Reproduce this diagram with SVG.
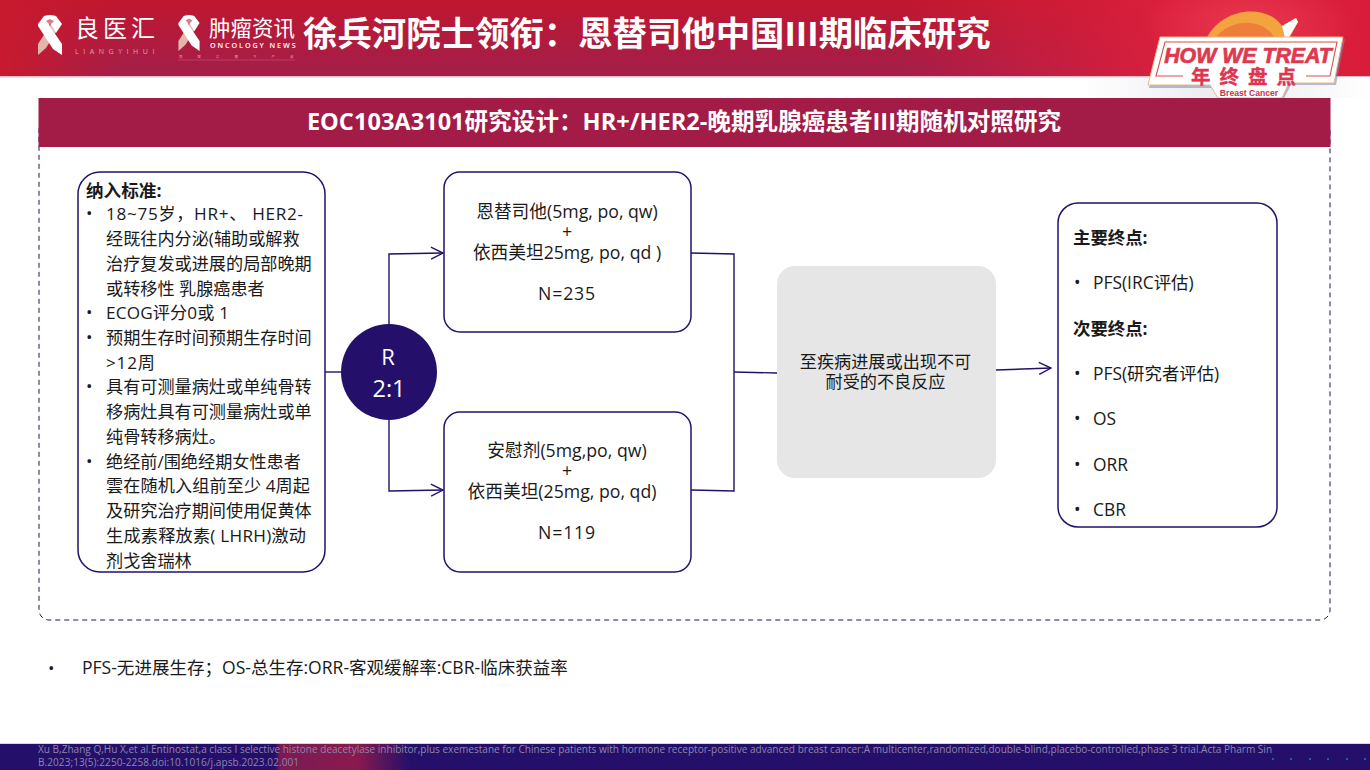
<svg xmlns="http://www.w3.org/2000/svg" width="1370" height="770" viewBox="0 0 1370 770">
<style>
text{font-family:"Open Sans","Noto Sans CJK SC",sans-serif;fill:#1a1a1a;font-size:17.15px}
.w{fill:#fff}
.c{text-anchor:middle}
.b{font-weight:700}
.box{fill:#fff;stroke:#24106a;stroke-width:1.5}
.ln{fill:none;stroke:#24106a;stroke-width:1.4}
.arm{font-size:17.7px}
.ep{font-size:17.4px}
.ref{font-size:10.05px;fill:#8d86ab;font-family:"Open Sans",sans-serif}
</style>
<defs>
<linearGradient id="hd" x1="0" y1="0" x2="0" y2="1"><stop offset="0" stop-color="#c0172f"/><stop offset="1" stop-color="#a31e4a"/></linearGradient>
<linearGradient id="hr" x1="0" y1="0" x2="1" y2="0"><stop offset="0" stop-color="#d81f3c" stop-opacity="0"/><stop offset="0.6" stop-color="#dc1f3c"/><stop offset="1" stop-color="#d81c3a"/></linearGradient>
<linearGradient id="hl" x1="0" y1="0" x2="1" y2="0"><stop offset="0" stop-color="#c81a2e"/><stop offset="1" stop-color="#c81a2e" stop-opacity="0"/></linearGradient>
<linearGradient id="fp" x1="0" y1="0" x2="1" y2="0"><stop offset="0" stop-color="#24106a"/><stop offset="0.04" stop-color="#7c1a55"/><stop offset="0.6" stop-color="#8a1a4e"/><stop offset="1" stop-color="#24106a"/></linearGradient>
<linearGradient id="haze" x1="0" y1="0" x2="1" y2="0"><stop offset="0" stop-color="#eeeef2" stop-opacity="0"/><stop offset="0.5" stop-color="#e9e9ef"/><stop offset="1" stop-color="#fff"/></linearGradient>
<radialGradient id="sun" cx=".5" cy=".5" r=".5"><stop offset="0" stop-color="#ee3f55" stop-opacity=".8"/><stop offset="1" stop-color="#ee3f55" stop-opacity="0"/></radialGradient>
<marker id="arr" viewBox="0 0 14 14" refX="13" refY="7" markerWidth="14" markerHeight="14" markerUnits="userSpaceOnUse" orient="auto"><path d="M1 1L13 7L1 13" fill="none" stroke="#24106a" stroke-width="1.4"/></marker>
<g id="rib">
<path d="M6 17L-4 33L-12 40V29L1 9H7Z" fill="#e3b5ad"/>
<path d="M-12 9L-6 1Q0-1 6 1L12 9L6 18L1 10Q0 7-1 10L12 29V40L3 34L-12 11Z" fill="#fff"/>
<path d="M-4 6L0 10L4 6L0 4Z" fill="#d8808a"/>
</g>
</defs>

<g id="header">
<rect x="0" y="0" width="1370" height="76" fill="url(#hd)"/>
<rect x="0" y="0" width="120" height="76" fill="url(#hl)"/>
<rect x="900" y="0" width="470" height="76" fill="url(#hr)"/>
<ellipse cx="1250" cy="25" rx="110" ry="50" fill="url(#sun)"/>
<rect x="0" y="76" width="1370" height="1.5" fill="#e8b9c6"/>
<rect x="1080" y="77" width="290" height="21" fill="url(#haze)"/>
</g>

<g id="logo-liangyihui">
<use href="#rib" x="50" y="15"/>
<text class="w" x="75" y="37" style="font-size:24px;letter-spacing:4px">良医汇</text>
<text class="w" x="75" y="54" style="font-size:7px;letter-spacing:4.55px;opacity:.55">LIANGYIHUI</text>
</g>
<g id="logo-oncology">
<use href="#rib" transform="translate(189,15) scale(.88,.9)"/>
<text class="w" x="209" y="36" style="font-size:21.5px">肿瘤资讯</text>
<text class="w" x="210" y="48" style="font-size:7.2px;letter-spacing:1.9px;font-weight:600">ONCOLOGY NEWS</text>
<text x="179" y="58" style="font-size:3.5px;letter-spacing:15px;fill:#e6a3ad">良医汇旗下产品</text>
<line x1="178" y1="60" x2="295" y2="60" stroke="#c9627c" stroke-width=".5"/>
</g>
<text id="title" class="w b" x="303" y="46" style="font-size:34.4px">徐兵河院士领衔：恩替司他中国III期临床研究</text>

<g id="badge">
<path d="M1205 42C1218 8 1266 2 1282 26L1296 18L1298 22L1284 48H1205Z" fill="#f3a43e"/>
<path d="M1282 26L1296 18L1298 22L1286 42Z" fill="#fff"/>
<path d="M1214 40C1228 18 1264 16 1276 40Z" fill="#ee7f3b"/>
<path d="M1160 39L1345 39L1336 85H1291L1283 100H1220L1212 88H1149Z" fill="#7d86ad" opacity=".55"/>
<path d="M1160 37L1343 37L1334 83H1289L1282 98H1218L1210 85H1148Z" fill="#fff" stroke="#e6b887" stroke-width="1"/>
<path d="M1183 76H1156L1165 42H1337L1330 76H1306" fill="none" stroke="#d8504a" stroke-width="1.1"/>
<text x="1248" y="63" text-anchor="middle" style="font-size:21.3px;font-weight:700;font-style:italic;fill:#e0394f;stroke:#e0394f;stroke-width:.7;font-family:'Liberation Sans',sans-serif">HOW WE TREAT</text>
<text x="1248" y="84" text-anchor="middle" style="font-size:19.5px;font-weight:700;letter-spacing:9px;fill:#df3550;stroke:#df3550;stroke-width:.4">年终盘点</text>
<text x="1249" y="96" text-anchor="middle" style="font-size:8.6px;font-weight:700;fill:#c4324a;font-family:'Liberation Sans',sans-serif">Breast Cancer</text>
</g>

<g id="panel">
<rect x="39" y="120" width="1291" height="500" rx="10" fill="#fff" stroke="#24106a" stroke-width="1" stroke-dasharray="5 4"/>
<rect x="38.5" y="98" width="1292" height="49" fill="#a31b47"/>
<text class="w b c" x="684" y="130" style="font-size:23.6px">EOC103A3101研究设计：HR+/HER2-晚期乳腺癌患者III期随机对照研究</text>
</g>

<g id="connectors">
<line class="ln" x1="325" y1="372" x2="341" y2="372"/>
<path class="ln" d="M389 324V254L443 253" marker-end="url(#arr)"/>
<path class="ln" d="M389 420V491L443 490" marker-end="url(#arr)"/>
<path class="ln" d="M691 253L734 254V491L691 490"/>
<line class="ln" x1="734" y1="372" x2="777" y2="373"/>
<line class="ln" x1="996" y1="370" x2="1051" y2="368" marker-end="url(#arr)"/>
</g>

<g id="criteria">
<rect class="box" x="78" y="172" width="247" height="400" rx="22"/>
<text class="b" x="86" y="197" style="font-size:17.6px">纳入标准:</text>
<text x="86" y="219">•</text><text x="106" y="220" textLength="197">18~75岁，HR+、 HER2-</text>
<text x="106" y="245">经既往内分泌(辅助或解救</text>
<text x="106" y="270">治疗复发或进展的局部晚期</text>
<text x="106" y="295">或转移性 乳腺癌患者</text>
<text x="86" y="318">•</text><text x="106" y="319" textLength="123">ECOG评分0或 1</text>
<text x="86" y="343">•</text><text x="106" y="344">预期生存时间预期生存时间</text>
<text x="106" y="369" textLength="49">&gt;12周</text>
<text x="86" y="392">•</text><text x="106" y="393">具有可测量病灶或单纯骨转</text>
<text x="106" y="418">移病灶具有可测量病灶或单</text>
<text x="106" y="443">纯骨转移病灶。</text>
<text x="86" y="467">•</text><text x="106" y="468">绝经前/围绝经期女性患者</text>
<text x="106" y="492" textLength="204">雲在随机入组前至少 4周起</text>
<text x="106" y="517">及研究治疗期间使用促黄体</text>
<text x="106" y="542" textLength="200">生成素释放素( LHRH)激动</text>
<text x="106" y="567">剂戈舍瑞林</text>
</g>

<g id="random">
<circle cx="389" cy="372" r="48" fill="#24106a"/>
<text class="w c" x="388" y="365" style="font-size:22px">R</text>
<text class="w c" x="389" y="397" style="font-size:23.5px">2:1</text>
</g>

<g id="arm-a">
<rect class="box" x="444" y="172" width="247" height="160" rx="16"/>
<text class="c arm" x="567" y="218">恩替司他(5mg, po, qw)</text>
<text class="c arm" x="567" y="238">+</text>
<text class="c arm" x="567" y="259">依西美坦25mg, po, qd )</text>
<text class="c arm" x="567" y="300" style="letter-spacing:.8px">N=235</text>
</g>
<g id="arm-b">
<rect class="box" x="444" y="412" width="247" height="160" rx="16"/>
<text class="c arm" x="567" y="457">安慰剂(5mg,po, qw)</text>
<text class="c arm" x="567" y="477">+</text>
<text class="c arm" x="562" y="498">依西美坦(25mg, po, qd)</text>
<text class="c arm" x="567" y="539" style="letter-spacing:.8px">N=119</text>
</g>

<g id="treatment">
<rect x="777" y="266" width="219" height="212" rx="18" fill="#e6e6e6"/>
<text class="c" x="885.500" y="368">至疾病进展或出现不可</text>
<text class="c" x="885.500" y="388">耐受的不良反应</text>
</g>

<g id="endpoints">
<rect class="box" x="1058" y="203" width="219" height="324" rx="20"/>
<text class="b ep" x="1073" y="244">主要终点:</text>
<text class="ep" x="1074" y="289">•</text><text class="ep" x="1093" y="289">PFS(IRC评估)</text>
<text class="b ep" x="1073" y="335">次要终点:</text>
<text class="ep" x="1074" y="380">•</text><text class="ep" x="1093" y="380">PFS(研究者评估)</text>
<text class="ep" x="1074" y="425">•</text><text class="ep" x="1093" y="425">OS</text>
<text class="ep" x="1074" y="471">•</text><text class="ep" x="1093" y="471">ORR</text>
<text class="ep" x="1074" y="516">•</text><text class="ep" x="1093" y="516">CBR</text>
</g>

<g id="abbr">
<text x="48" y="674">•</text>
<text x="82" y="674" style="font-size:17.55px">PFS-无进展生存；OS-总生存:ORR-客观缓解率:CBR-临床获益率</text>
</g>

<g id="footer">
<rect x="0" y="744" width="1370" height="26" fill="#24106a"/>
<rect x="275" y="744" width="135" height="26" fill="url(#fp)"/>
<rect x="0" y="743" width="1370" height="1" fill="#d9d6e4"/>
<text class="ref" x="38" y="753">Xu B,Zhang Q,Hu X,et al.Entinostat,a class I selective histone deacetylase inhibitor,plus exemestane for Chinese patients with hormone receptor-positive advanced breast cancer:A multicenter,randomized,double-blind,placebo-controlled,phase 3 trial.Acta Pharm Sin</text>
<text class="ref" x="38" y="766" textLength="261">B.2023;13(5):2250-2258.doi:10.1016/j.apsb.2023.02.001</text>
<g fill="#1d5fa8"><rect x="1272" y="758" width="2" height="2"/><rect x="1290" y="758" width="2" height="2"/><rect x="1309" y="758" width="2" height="2"/><rect x="1327" y="758" width="2" height="2"/><rect x="1346" y="758" width="2" height="2"/><rect x="1364" y="758" width="2" height="2"/></g>
</g>
</svg>
